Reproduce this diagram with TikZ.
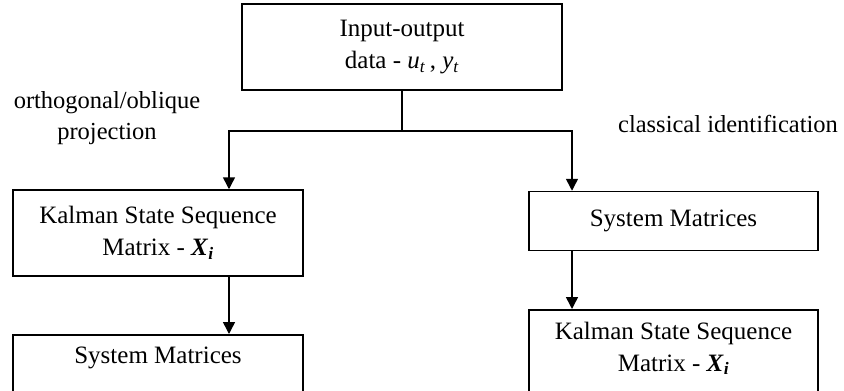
\documentclass[tikz,border=0pt]{standalone}
\usepackage{fontspec}
\setmainfont{Liberation Serif}
\usetikzlibrary{arrows.meta}
\tikzset{
  x=1pt, y=-1pt,
  box/.style={draw=black, line width=1.5pt, inner sep=0pt, align=center,
              font=\fontsize{25}{32}\selectfont},
  lbl/.style={align=center, inner sep=0pt, font=\fontsize{24.5}{31}\selectfont},
  link/.style={line width=1.5pt},
  arr/.style={line width=1.5pt, -{Triangle[length=12pt,width=12pt]}}
}
\newcommand{\ioterms}{\textit{u}\textsubscript{\textit{t}}\,, \textit{y}\textsubscript{\textit{t}}}
\newcommand{\statemat}{\textbf{\textit{X}}\textsubscript{\textbf{\textit{i}}}}
\begin{document}
\begin{tikzpicture}
  \clip (0,0) rectangle (844,391);
  \fill[white] (0,0) rectangle (844,391);

  % source box
  \node[box, minimum width=320pt, minimum height=86pt] (top) at (402,47)
    {Input-output\\data - \ioterms};

  % left branch
  \node[box, minimum width=290pt, minimum height=86pt] (lkal) at (158,233)
    {Kalman State Sequence\\Matrix - \statemat};
  \node[box, minimum width=290pt, anchor=north, inner ysep=12pt,
        text depth=60pt] (lsys) at (158,334) {System Matrices};

  % right branch
  \node[box, minimum width=289pt, minimum height=59pt] (rsys) at (673.5,221)
    {System Matrices};
  \node[box, minimum width=289pt, anchor=north, inner ysep=12pt,
        text depth=60pt] (rkal) at (673.5,309)
    {Kalman State Sequence\\Matrix - \statemat};

  % branch labels
  \node[lbl] (proj) at (107,118) {orthogonal/oblique\\projection};
  \node[lbl] (clas) at (728,124) {classical identification};

  % connectors
  \coordinate (jm) at (402,131);
  \coordinate (jl) at (229,131);
  \coordinate (jr) at (572,131);
  \draw[link] (top.south) -- (jm);
  \draw[arr] (jm) -| (lkal.north -| jl);
  \draw[arr] (jm) -| (rsys.north -| jr);
  \draw[arr] (lkal.south -| jl) -- (lsys.north -| jl);
  \draw[arr] (rsys.south -| jr) -- (rkal.north -| jr);
\end{tikzpicture}
\end{document}
